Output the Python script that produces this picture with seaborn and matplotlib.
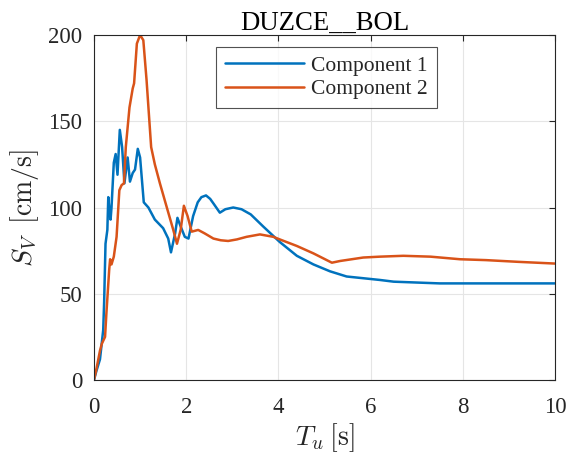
import matplotlib
matplotlib.use("Agg")
import matplotlib.pyplot as plt
import seaborn as sns
import pandas as pd

# Pseudo-velocity response spectra, two horizontal components
t_comp1 = [0, 0.05, 0.13, 0.2, 0.22, 0.25, 0.29, 0.31, 0.34, 0.36, 0.38, 0.43, 0.47,
           0.51, 0.56, 0.61, 0.66, 0.73, 0.78, 0.84, 0.89, 0.95, 1.0, 1.08, 1.18,
           1.32, 1.5, 1.61, 1.67, 1.76, 1.81, 1.88, 1.97, 2.05, 2.15, 2.25, 2.33,
           2.43, 2.52, 2.6, 2.73, 2.85, 3.02, 3.2, 3.4, 3.67, 4.03, 4.4, 4.76, 5.12,
           5.48, 5.84, 6.2, 6.5, 7.0, 7.5, 8.0, 9.0, 10.0]
sv_comp1 = [0, 5, 12, 29, 45, 79, 87, 106, 97, 93, 100, 126, 131,
            119, 145, 135, 114, 129, 115, 120, 122, 134, 129, 103, 100,
            93, 88, 82, 74, 85, 94, 89, 83, 82, 95, 103, 106,
            107, 105, 102, 97, 99, 100, 99, 96, 89, 80, 72, 67, 63,
            60, 59, 58, 57, 56.5, 56, 56, 56, 56]

t_comp2 = [0, 0.05, 0.13, 0.17, 0.24, 0.27, 0.33, 0.35, 0.38, 0.43, 0.49, 0.55, 0.6,
           0.65, 0.69, 0.77, 0.84, 0.87, 0.93, 1.0, 1.07, 1.14, 1.24, 1.32, 1.43,
           1.58, 1.72, 1.8, 1.88, 1.95, 2.03, 2.12, 2.26, 2.4, 2.59, 2.75, 2.91,
           3.1, 3.31, 3.6, 3.89, 4.03, 4.4, 4.76, 5.16, 5.34, 5.84, 6.2, 6.71,
           7.3, 7.94, 8.5, 9.2, 10.0]
sv_comp2 = [0, 6, 17, 21, 25, 39, 64, 70, 67, 71.5, 83, 110, 113,
            114, 135, 158, 169, 172, 195, 200, 197, 174, 135, 125, 114,
            100, 87, 79, 87, 101, 95, 86, 87, 85, 82, 81, 80.6,
            81.5, 83, 84.4, 83, 81.5, 77.7, 73.4, 68, 69, 71, 71.5, 72,
            71.5, 70, 69.5, 68.5, 67.5]

series_names = ["Component 1", "Component 2"]
x_ticks = [0, 2, 4, 6, 8, 10]
y_ticks = [0, 50, 100, 150, 200]

df = pd.concat([
    pd.DataFrame({"T": t_comp1, "Sv": sv_comp1, "series": series_names[0]}),
    pd.DataFrame({"T": t_comp2, "Sv": sv_comp2, "series": series_names[1]}),
], ignore_index=True)

sns.set_theme(style="whitegrid")
plt.rcParams.update({
    "font.family": ["Liberation Serif", "DejaVu Serif"],
    "mathtext.fontset": "cm",
    "axes.edgecolor": "#262626",
    "axes.linewidth": 0.8,
    "grid.color": "#e5e5e5",
    "grid.linewidth": 0.8,
    "xtick.direction": "in",
    "ytick.direction": "in",
    "xtick.top": True,
    "ytick.right": True,
    "xtick.major.size": 4,
    "ytick.major.size": 4,
    "xtick.major.width": 0.8,
    "ytick.major.width": 0.8,
    "xtick.color": "#262626",
    "ytick.color": "#262626",
})

fig = plt.figure(figsize=(5.71, 4.54), dpi=100)
ax = fig.add_axes([0.1646, 0.163, 0.8074, 0.7599])

palette = {series_names[0]: "#0072BD", series_names[1]: "#D95319"}
sns.lineplot(data=df, x="T", y="Sv", hue="series", palette=palette,
             linewidth=1.8, ax=ax, sort=False, estimator=None)

ax.set_xlim(0, 10)
ax.set_ylim(0, 200)
ax.set_xticks(x_ticks)
ax.set_yticks(y_ticks)
ax.tick_params(axis="x", labelsize=16.5, colors="#262626", pad=12.5)
ax.tick_params(axis="y", labelsize=16.5, colors="#262626", pad=8.5)

ax.set_xlabel(r"$T_u\:[\mathrm{s}]$", fontsize=20, color="#262626", labelpad=2)
ax.set_ylabel(r"$S_V\;\;[\mathrm{cm/s}]$", fontsize=20, color="#262626", labelpad=5)
ax.set_title("DUZCE__BOL", fontsize=19.3, color="black", pad=4)

for s in ax.spines.values():
    s.set_visible(True)
    s.set_color("#262626")

leg = ax.legend(loc="upper left", bbox_to_anchor=(0.2646, 0.965), fontsize=15.5,
                frameon=True, fancybox=False, edgecolor="#262626",
                handlelength=3.7, borderpad=0.4, labelspacing=0.15,
                handletextpad=0.33, borderaxespad=0)
leg.get_frame().set_linewidth(0.8)
leg.set_title(None)

fig.savefig("out.png", dpi=100)
